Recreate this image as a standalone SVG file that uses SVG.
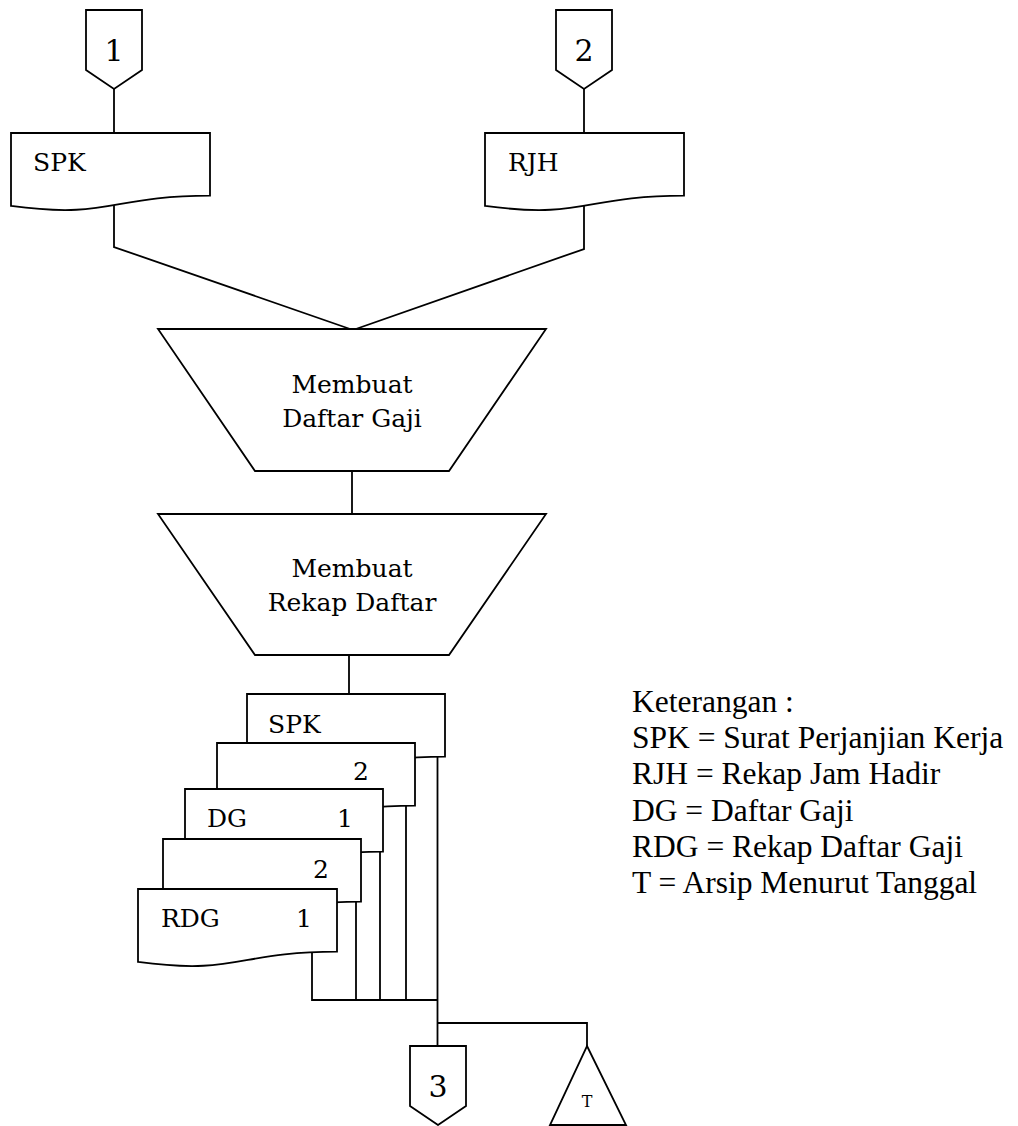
<svg xmlns="http://www.w3.org/2000/svg" width="1018" height="1126" viewBox="0 0 1018 1126">
<style>
.s{fill:#fff;stroke:#000;stroke-width:1.8;stroke-linejoin:miter}
.c{fill:none;stroke:#000;stroke-width:1.8}
.t{font-family:"DejaVu Serif","Liberation Serif",serif;font-size:25px;fill:#000}
.n{font-family:"DejaVu Serif","Liberation Serif",serif;font-size:30px;fill:#000;text-anchor:middle}
.m{text-anchor:middle}
.l{font-family:"Liberation Serif","Times New Roman",serif;font-size:31.5px;fill:#000}
</style>
<rect width="1018" height="1126" fill="#fff"/>
<g id="connectors">
<path class="c" d="M114,89V133"/>
<path class="c" d="M584,89V133"/>
<path class="c" d="M114,200V247L353,330"/>
<path class="c" d="M584,200V249L353,330"/>
<path class="c" d="M352,471V514"/>
<path class="c" d="M349,655V694"/>
<path class="c" d="M437.5,757V1046"/>
<path class="c" d="M406,805V1000"/>
<path class="c" d="M380,851V1000"/>
<path class="c" d="M356,902V1000"/>
<path class="c" d="M312,950V1000H437.5"/>
<path class="c" d="M437.5,1023H587V1046"/>
</g>
<g id="conn1">
<polygon class="s" points="86,10 142,10 142,70 114,89 86,70"/>
<text class="n" x="114" y="61">1</text>
</g>
<g id="conn2">
<polygon class="s" points="556,10 612,10 612,70 584,89 556,70"/>
<text class="n" x="584" y="61">2</text>
</g>
<g id="doc-spk">
<path class="s" d="M11,133H210V195.6C110.5,195.6 110.5,219.4 11,205.9Z"/>
<text class="t" x="33" y="171">SPK</text>
</g>
<g id="doc-rjh">
<path class="s" d="M485,133H684V195.6C584.5,195.6 584.5,219.4 485,205.9Z"/>
<text class="t" x="508" y="171">RJH</text>
</g>
<g id="proc-daftar-gaji">
<polygon class="s" points="158,329 546,329 449,471 255,471"/>
<text class="t m" x="352" y="393">Membuat</text>
<text class="t m" x="352" y="427">Daftar Gaji</text>
</g>
<g id="proc-rekap-daftar">
<polygon class="s" points="158,514 546,514 449,655 255,655"/>
<text class="t m" x="352" y="577">Membuat</text>
<text class="t m" x="352" y="611">Rekap Daftar</text>
</g>
<g id="stack-spk">
<path class="s" d="M247,694H445V756.6C346,756.6 346,780.4 247,766.9Z"/>
<text class="t" x="268" y="733">SPK</text>
</g>
<g id="stack-dg2">
<path class="s" d="M217,743H415V805.6C316,805.6 316,829.4 217,815.9Z"/>
<text class="t" x="353" y="780">2</text>
</g>
<g id="stack-dg1">
<path class="s" d="M185,789H383V851.6C284,851.6 284,875.4 185,861.9Z"/>
<text class="t" x="207" y="827">DG</text>
<text class="t" x="337" y="827">1</text>
</g>
<g id="stack-rdg2">
<path class="s" d="M163,839H361V901.6C262,901.6 262,925.4 163,911.9Z"/>
<text class="t" x="313" y="878">2</text>
</g>
<g id="stack-rdg1">
<path class="s" d="M138,889H337V951.6C237.5,951.6 237.5,975.4 138,961.9Z"/>
<text class="t" x="161" y="927">RDG</text>
<text class="t" x="296" y="927">1</text>
</g>
<g id="conn3">
<polygon class="s" points="410,1046 466,1046 466,1106 438,1125 410,1106"/>
<text class="n" x="438" y="1097">3</text>
</g>
<g id="archive-t">
<polygon class="s" points="587,1046 626,1125 550,1125"/>
<text class="t m" x="587" y="1107" style="font-size:16px">T</text>
</g>
<g id="legend" class="l">
<text x="632" y="712">Keterangan :</text>
<text x="632" y="748.2">SPK = Surat Perjanjian Kerja</text>
<text x="632" y="784.4">RJH = Rekap Jam Hadir</text>
<text x="632" y="820.6">DG = Daftar Gaji</text>
<text x="632" y="856.8">RDG = Rekap Daftar Gaji</text>
<text x="632" y="893">T = Arsip Menurut Tanggal</text>
</g>
</svg>
